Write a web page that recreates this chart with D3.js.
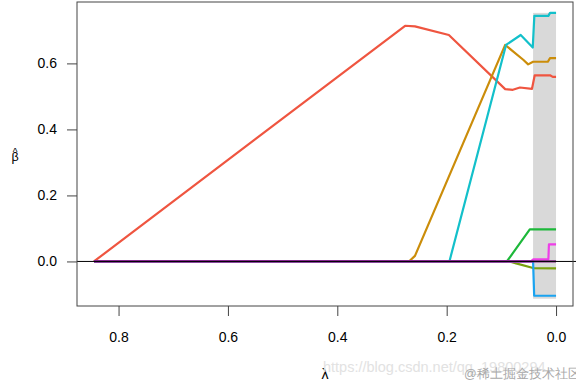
<!DOCTYPE html>
<html><head><meta charset="utf-8">
<script src="https://cdn.jsdelivr.net/npm/d3@7"></script>
<style>body{margin:0;background:#fff}svg{display:block}text{font-family:"Liberation Sans",Arial,sans-serif}</style>
</head><body>
<script>
// lambda values (x) and coefficient values for each path
const redLambda  = [0.845, 0.276, 0.258, 0.196, 0.093, 0.079, 0.066, 0.044, 0.039, 0.011, 0.006, 0];
const redBeta    = [0, 0.714, 0.712, 0.686, 0.522, 0.520, 0.527, 0.523, 0.564, 0.564, 0.559, 0.559];
const goldLambda = [0.845, 0.269, 0.258, 0.093, 0.060, 0.051, 0.042, 0.015, 0.011, 0];
const goldBeta   = [0, 0, 0.017, 0.656, 0.611, 0.597, 0.605, 0.605, 0.616, 0.616];
const cyanLambda = [0.845, 0.195, 0.0915, 0.0646, 0.0426, 0.0397, 0.014, 0.011, 0];
const cyanBeta   = [0, 0, 0.656, 0.686, 0.648, 0.744, 0.744, 0.753, 0.753];
const greenLambda = [0.845, 0.090, 0.079, 0.048, 0];
const greenBeta   = [0, 0, 0.025, 0.097, 0.097];
const oliveLambda = [0.845, 0.085, 0.073, 0.042, 0];
const oliveBeta   = [0, 0, -0.006, -0.020, -0.021];
const blueLambda  = [0.845, 0.042, 0.040, 0];
const blueBeta    = [0, 0, -0.104, -0.104];
const pinkLambda  = [0.845, 0.046, 0.042, 0.014, 0.013, 0];
const pinkBeta    = [0, 0, 0.006, 0.007, 0.052, 0.052];
const purpleLambda = [0.845, 0];
const purpleBeta   = [0, 0];
const bandLambda = [0.042, 0];
const bandBeta   = [-0.113, 0.753];
const xTicks = [0.8, 0.6, 0.4, 0.2, 0.0];
const yTicks = [0.0, 0.2, 0.4, 0.6];

const series = [
  {l: redLambda, b: redBeta, c: "#EF5540"},
  {l: goldLambda, b: goldBeta, c: "#CB8D0A"},
  {l: cyanLambda, b: cyanBeta, c: "#13C0CA"},
  {l: greenLambda, b: greenBeta, c: "#1DB83A"},
  {l: oliveLambda, b: oliveBeta, c: "#78A00E"},
  {l: blueLambda, b: blueBeta, c: "#1AA3F0"},
  {l: pinkLambda, b: pinkBeta, c: "#EE3FE8"},
  {l: purpleLambda, b: purpleBeta, c: "#7E1C80"}
];

const W = 576, H = 384;
const svg = d3.select("body").append("svg").attr("width", W).attr("height", H);
const x = d3.scaleLinear().domain([0.876, -0.031]).range([77, 573]);
const y = d3.scaleLinear().domain([-0.135, 0.786]).range([306, 2]);

// grey band
svg.append("rect")
  .attr("x", x(bandLambda[0])).attr("width", x(bandLambda[1]) - x(bandLambda[0]))
  .attr("y", y(bandBeta[1])).attr("height", y(bandBeta[0]) - y(bandBeta[1]))
  .attr("fill", "#d9d9d9");

const line = d3.line().x(d => x(d[0])).y(d => y(d[1]));
series.forEach(s => {
  svg.append("path")
    .attr("d", line(s.l.map((v, i) => [v, s.b[i]])))
    .attr("fill", "none").attr("stroke", s.c).attr("stroke-width", 2.2)
    .attr("stroke-linejoin", "round");
});

// zero line
svg.append("line").attr("x1", 77).attr("x2", 576).attr("y1", y(0)).attr("y2", y(0))
  .attr("stroke", "#000").attr("stroke-width", 1);

// box
svg.append("rect").attr("x", 77).attr("y", 2).attr("width", 496).attr("height", 304)
  .attr("fill", "none").attr("stroke", "#444").attr("stroke-width", 1);

const xa = svg.append("g").attr("transform", "translate(0,306)")
  .call(d3.axisBottom(x).tickValues(xTicks).tickFormat(d3.format(".1f")).tickSize(10).tickPadding(16));
const ya = svg.append("g").attr("transform", "translate(77,0)")
  .call(d3.axisLeft(y).tickValues(yTicks).tickFormat(d3.format(".1f")).tickSize(10).tickPadding(10));
[xa, ya].forEach(a => {
  a.select(".domain").remove();
  a.selectAll("line").attr("stroke", "#444");
  a.selectAll("text").attr("font-size", 14).attr("fill", "#000")
    .attr("font-family", "'Liberation Sans', Arial, sans-serif");
});

// axis titles
svg.append("text").attr("x", 325).attr("y", 379).attr("text-anchor", "middle")
  .attr("font-size", 14).text("λ");
svg.append("text").attr("x", 15).attr("y", 161).attr("text-anchor", "middle")
  .attr("font-size", 12.5).text("β");
svg.append("text").attr("x", 15).attr("y", 156).attr("text-anchor", "middle")
  .attr("font-size", 10).attr("fill", "#000").text("^");

// watermarks
svg.append("text").attr("x", 323).attr("y", 372).attr("font-size", 14.5)
  .attr("fill", "#e2e2e2").text("https://blog.csdn.net/qq_19800294");
svg.append("text").attr("x", 464).attr("y", 378).attr("font-size", 12.5)
  .attr("fill", "#a8a8a8").text("@稀土掘金技术社区");
</script>
</body></html>
